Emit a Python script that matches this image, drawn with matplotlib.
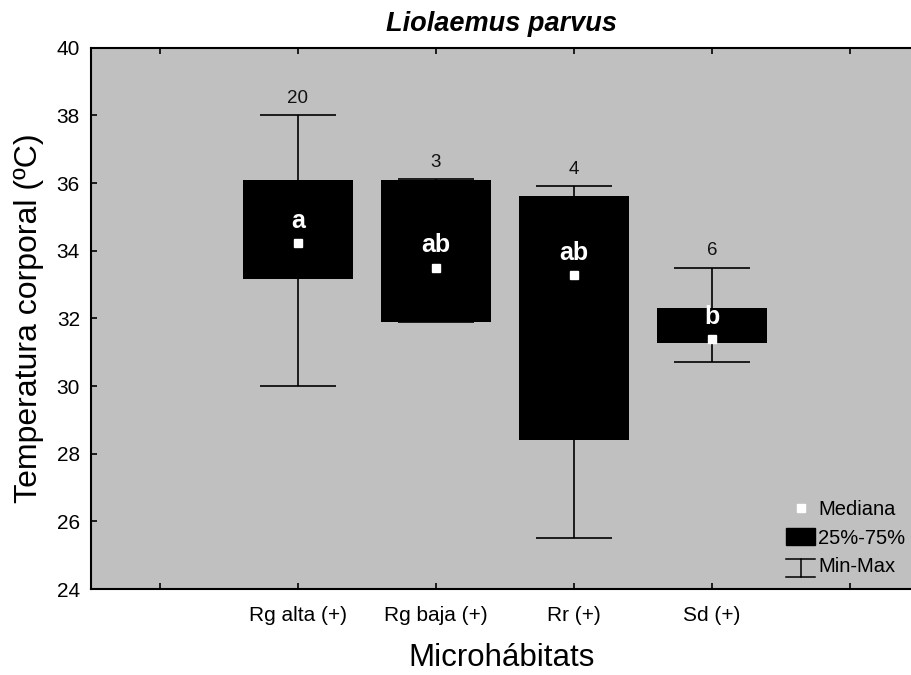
import matplotlib
matplotlib.use('Agg')
import matplotlib.pyplot as plt
from matplotlib.patches import Patch
from matplotlib.lines import Line2D
from matplotlib.legend_handler import HandlerBase
import numpy as np

plt.rcParams['font.family'] = ['Liberation Sans', 'DejaVu Sans']

categories = ['Rg alta (+)', 'Rg baja (+)', 'Rr (+)', 'Sd (+)']
mins = [30.0, 31.88, 25.5, 30.7]
q25 = [33.15, 31.9, 28.4, 31.28]
medians = [34.22, 33.5, 33.27, 31.38]
q75 = [36.1, 36.1, 35.62, 32.3]
maxs = [38.0, 36.12, 35.9, 33.5]
counts = [20, 3, 4, 6]
letters = ['a', 'ab', 'ab', 'b']


class MinMaxHandler(HandlerBase):
    # draws the little "I" shape used by the min-max whiskers
    def create_artists(self, legend, orig_handle, xdescent, ydescent,
                       width, height, fontsize, trans):
        x0 = -xdescent
        y0 = -ydescent - 0.2 * height
        y1 = -ydescent + 0.85 * height
        xm = x0 + width / 2
        lines = [
            Line2D([x0, x0 + width], [y0, y0]),
            Line2D([x0, x0 + width], [y1, y1]),
            Line2D([xm, xm], [y0, y1]),
        ]
        for l in lines:
            l.set_color('black')
            l.set_linewidth(1.1)
            l.set_transform(trans)
        return lines


fig = plt.figure(figsize=(9.12, 6.75), dpi=100)
ax = fig.add_axes([0.0998, 0.1274, 0.9002, 0.8019])
ax.set_facecolor('#c0c0c0')

x = np.arange(1, len(categories) + 1)
med = np.array(medians)
lo = med - np.array(mins)
hi = np.array(maxs) - med

ax.errorbar(x, med, yerr=[lo, hi], fmt='none', ecolor='black',
            elinewidth=1.2, capsize=27.5, capthick=1.2, zorder=2)
ax.bar(x, np.array(q75) - np.array(q25), bottom=q25, width=0.8,
       color='black', zorder=3)
ax.plot(x, med, linestyle='none', marker='s', markersize=6,
        markerfacecolor='white', markeredgecolor='white', zorder=4)

for xi, top, n in zip(x, maxs, counts):
    ax.annotate(str(n), (xi, top), xytext=(0, 6), textcoords='offset points',
                ha='center', va='bottom', fontsize=13.5, color='#111111')

for xi, m, lab in zip(x, medians, letters):
    ax.annotate(lab, (xi, m), xytext=(0, 16), textcoords='offset points',
                ha='center', va='center', fontsize=18, fontweight='bold',
                color='white', zorder=5)

ax.set_xlim(-0.5, 5.45)
ax.set_ylim(24, 40)
ax.set_xticks(range(0, 6))
ax.set_xticklabels([''] + categories + [''])
ax.set_yticks(range(24, 41, 2))
ax.tick_params(axis='both', direction='in', length=4, width=1.2,
               labelsize=15, top=True)
ax.tick_params(axis='x', pad=12)
ax.tick_params(axis='y', pad=8)
for s in ['left', 'bottom', 'top']:
    ax.spines[s].set_linewidth(1.5)
ax.spines['right'].set_visible(False)

ax.set_title('Liolaemus parvus', fontsize=19.5, fontweight='bold',
             fontstyle='italic', pad=12)
ax.set_xlabel('Microhábitats', fontsize=22.5, labelpad=13)
ax.set_ylabel('Temperatura corporal (ºC)', fontsize=23, labelpad=9)

h_med = Line2D([], [], linestyle='none', marker='s', markersize=6,
               markerfacecolor='white', markeredgecolor='white')
h_box = Patch(facecolor='black', edgecolor='black')
h_mm = object()
ax.legend([h_med, h_box, h_mm], ['Mediana', '25%-75%', 'Min-Max'],
          handler_map={object: MinMaxHandler()},
          loc='lower right', bbox_to_anchor=(1.008, 0.0), frameon=False,
          fontsize=14.5, handlelength=1.45, handleheight=0.9,
          handletextpad=0.15, labelspacing=0.45, borderaxespad=0.25)

fig.savefig('out.png', dpi=100)
